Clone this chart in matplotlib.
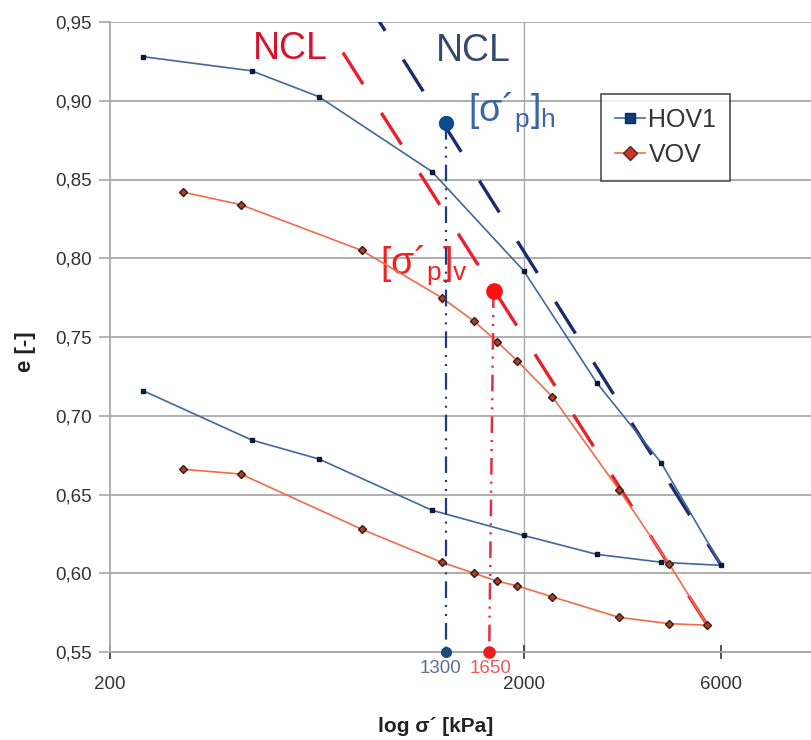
import numpy as np
import matplotlib
matplotlib.use("Agg")
import matplotlib.pyplot as plt
from matplotlib.ticker import FuncFormatter, NullLocator

plt.rcParams['font.family'] = ['Liberation Sans', 'DejaVu Sans']
plt.rcParams['lines.scale_dashes'] = False

# --- data ---
hov_sigma = [240, 440, 640, 1200, 2000, 3000, 4300, 6000,
             4300, 3000, 2000, 1200, 640, 440, 240]
hov_e = [0.928, 0.919, 0.9025, 0.855, 0.792, 0.721, 0.670, 0.605,
         0.607, 0.612, 0.624, 0.640, 0.6725, 0.6846, 0.716]

vov_sigma = [300, 414, 811, 1266, 1517, 1724, 1927, 2346, 3398, 4488, 5556,
             4488, 3398, 2346, 1927, 1724, 1517, 1266, 811, 414, 300]
vov_e = [0.842, 0.834, 0.805, 0.775, 0.760, 0.747, 0.735, 0.712, 0.653, 0.606, 0.567,
         0.568, 0.572, 0.585, 0.592, 0.595, 0.600, 0.607, 0.628, 0.663, 0.666]

ncl_h_sigma = [812, 6000]
ncl_h_e = [0.968, 0.605]
ncl_v_sigma = [731, 5556]
ncl_v_e = [0.9306, 0.567]

pc_h_sigma = 1300
pc_h_e = 0.886
pc_v_sigma_top = 1690
pc_v_sigma = 1650
pc_v_e = 0.779

x_ticks = [200, 2000, 6000]
y_ticks = [0.55, 0.60, 0.65, 0.70, 0.75, 0.80, 0.85, 0.90, 0.95]

# --- figure ---
fig = plt.figure(figsize=(8.11, 7.4), dpi=100)
ax = fig.add_axes([110/811, 88/740, 703/811, 630/740])
ax.set_xscale('log')
ax.set_xlim(200, 10000)
ax.set_ylim(0.55, 0.95)

grid_c = '#a8a8a8'
ax.set_yticks(y_ticks)
ax.yaxis.grid(True, color=grid_c, linewidth=1.3)
ax.axvline(2000, color=grid_c, linewidth=1.0, zorder=0.5)
ax.set_axisbelow(True)
ax.yaxis.set_major_formatter(FuncFormatter(lambda v, p: f"{v:.2f}".replace('.', ',')))
ax.set_xticks(x_ticks)
ax.set_xticklabels([str(t) for t in x_ticks])
ax.xaxis.set_minor_locator(NullLocator())
for s in ['top', 'right']:
    ax.spines[s].set_visible(False)
for s in ['left', 'bottom']:
    ax.spines[s].set_color(grid_c)
    ax.spines[s].set_linewidth(1.3)
ax.tick_params(axis='y', direction='out', length=8, width=1.2, color=grid_c,
               labelsize=13.5, labelcolor='#333333', pad=5)
ax.tick_params(axis='x', direction='inout', length=10, width=1.2, color='#333333',
               labelsize=13.5, labelcolor='#333333', pad=12)

# NCL lines
ax.plot(ncl_v_sigma, ncl_v_e, color='#e8202a', linewidth=2.4,
        linestyle=(0, (27, 24.5)), zorder=3)
ax.plot(ncl_h_sigma, ncl_h_e, color='#1c2a6e', linewidth=2.4,
        linestyle=(0, (27, 24.5)), zorder=3)

# data series
h_line, = ax.plot(hov_sigma, hov_e, color='#41689c', linewidth=1.2, marker='s',
                  markersize=3.5, markerfacecolor='#0d1a33', markeredgecolor='#0d1a33',
                  zorder=4)
v_line, = ax.plot(vov_sigma, vov_e, color='#f26b4a', linewidth=1.2, marker='D',
                  markersize=4.5, markerfacecolor='#a8402e', markeredgecolor='#3a1a10',
                  zorder=4)

# preconsolidation markers
ax.plot([pc_h_sigma, pc_h_sigma], [pc_h_e, 0.55], color='#203a7a', linewidth=1.6,
        linestyle=(0, (12, 5, 1.5, 5, 1.5, 5)), zorder=5, clip_on=False)
ax.plot([pc_v_sigma_top, pc_v_sigma], [pc_v_e, 0.55], color='#e03040', linewidth=1.8,
        linestyle=(0, (12, 5, 1.5, 5, 1.5, 5)), zorder=5, clip_on=False)
ax.plot([pc_h_sigma], [pc_h_e], 'o', color='#0b4a8b', markersize=10, zorder=6)
ax.plot([pc_v_sigma_top], [pc_v_e], 'o', color='#ff1010', markersize=11, zorder=6)
ax.plot([pc_h_sigma], [0.55], 'o', color='#1a4a7a', markersize=7, zorder=6, clip_on=False)
ax.plot([pc_v_sigma], [0.55], 'o', color='#ee1c1c', markersize=8, zorder=6, clip_on=False)

# annotations
ax.text(443, 0.9268, 'NCL', color='#d8112d', fontsize=27, ha='left', va='baseline')
ax.text(1226, 0.925, 'NCL', color='#34496d', fontsize=27, ha='left', va='baseline')
ax.text(1464, 0.8874, r'$\mathregular{[σ´_p]_h}$', color='#3a66a8', fontsize=27,
        ha='left', va='baseline')
ax.text(898, 0.790, r'$\mathregular{[σ´_p]_v}$', color='#ee2222', fontsize=27,
        ha='left', va='baseline')
ax.text(1260, 0.545, '1300', color='#5a7090', fontsize=13.5, ha='center', va='top')
ax.text(1660, 0.545, '1650', color='#e85a5a', fontsize=13.5, ha='center', va='top')

# legend
leg = ax.legend([h_line, v_line], ['HOV1', 'VOV'], loc='upper left',
                bbox_to_anchor=(601/811, 1 - 94/740), bbox_transform=fig.transFigure,
                borderaxespad=0, fontsize=18, frameon=True, fancybox=False,
                handlelength=1.2, handletextpad=0.15, borderpad=0.55, labelspacing=0.45,
                labelcolor='#333333')
leg.get_frame().set_edgecolor('#222222')
leg.get_frame().set_linewidth(1.2)
leg.legend_handles[0].set_markersize(7.5)
leg.legend_handles[0].set_markerfacecolor('#0b3d7a')
leg.legend_handles[0].set_markeredgecolor('#0b2d5a')
leg.legend_handles[1].set_markersize(7)
leg.legend_handles[1].set_markerfacecolor('#c0392b')
leg.legend_handles[1].set_markeredgecolor('#6a2015')

fig.text(436/811, 1 - 726/740, 'log σ´ [kPa]', fontsize=15, fontweight='bold',
         ha='center', va='center', color='#222222')
fig.text(25/811, 1 - 352/740, 'e [-]', fontsize=16, fontweight='bold', rotation=90,
         ha='center', va='center', color='#222222')

fig.savefig('out.png', dpi=100)
